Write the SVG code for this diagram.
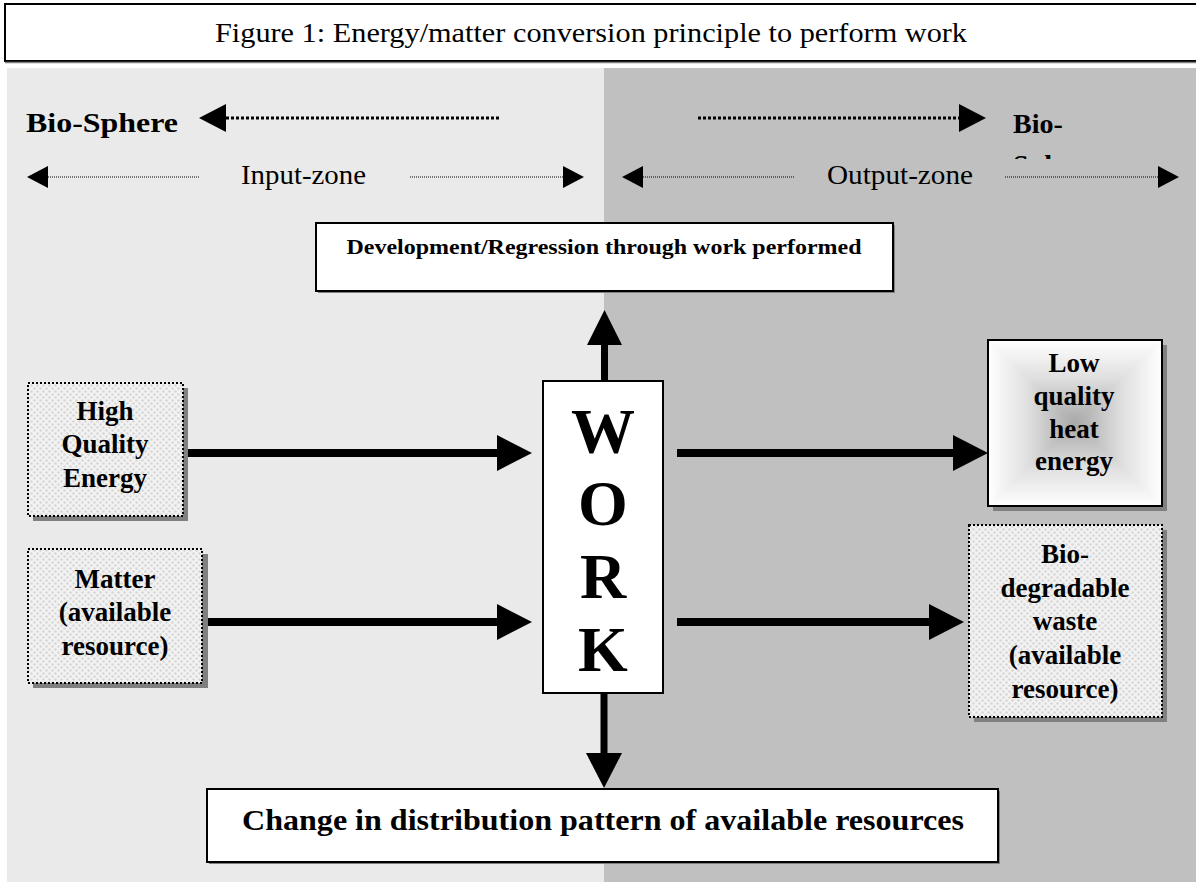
<svg xmlns="http://www.w3.org/2000/svg" width="1196" height="882" viewBox="0 0 1196 882">
<style>
.t{font-family:"Liberation Serif","Times New Roman",serif;fill:#000}
.b{font-weight:bold}
.ctr{text-anchor:middle}
.solid{fill:#fff;stroke:#000;stroke-width:2}
.shadow{fill:#808080}
.tex{fill:url(#dots);stroke:#000;stroke-width:2;stroke-dasharray:2 2}
.thick{stroke:#000;stroke-width:8;fill:none}
.head{fill:#000}
.dotB{stroke:#000;stroke-width:3;stroke-dasharray:3 2;fill:none}
.dotS{stroke:#000;stroke-width:1;stroke-dasharray:1 1;fill:none}
</style>
<defs>
<pattern id="dots" width="6" height="6" patternUnits="userSpaceOnUse">
<rect width="6" height="6" fill="#f2f2f2"/>
<circle cx="1.5" cy="1.5" r="1.2" fill="#d6d6d6"/>
<circle cx="4.5" cy="4.5" r="1.2" fill="#d6d6d6"/>
</pattern>
<linearGradient id="gT" x1="0" y1="340" x2="0" y2="423" gradientUnits="userSpaceOnUse">
<stop offset="0" stop-color="#ffffff"/><stop offset="0.45" stop-color="#e0e0e0"/><stop offset="1" stop-color="#a8a8a8"/>
</linearGradient>
<linearGradient id="gB" x1="0" y1="506" x2="0" y2="423" gradientUnits="userSpaceOnUse">
<stop offset="0" stop-color="#ffffff"/><stop offset="0.45" stop-color="#e0e0e0"/><stop offset="1" stop-color="#a8a8a8"/>
</linearGradient>
<linearGradient id="gL" x1="988" y1="0" x2="1075" y2="0" gradientUnits="userSpaceOnUse">
<stop offset="0" stop-color="#ffffff"/><stop offset="0.45" stop-color="#e0e0e0"/><stop offset="1" stop-color="#a8a8a8"/>
</linearGradient>
<linearGradient id="gR" x1="1162" y1="0" x2="1075" y2="0" gradientUnits="userSpaceOnUse">
<stop offset="0" stop-color="#ffffff"/><stop offset="0.45" stop-color="#e0e0e0"/><stop offset="1" stop-color="#a8a8a8"/>
</linearGradient>
<clipPath id="clipBio"><rect x="1000" y="100" width="196" height="59"/></clipPath>
</defs>

<!-- backgrounds -->
<rect x="7" y="68" width="597" height="814" fill="#eaeaea"/>
<rect x="604" y="68" width="592" height="814" fill="#c0c0c0"/>

<!-- title -->
<g id="title">
<rect x="5" y="4" width="1195" height="57" fill="#fff" stroke="#000" stroke-width="2"/>
<line x1="5" y1="62.5" x2="1196" y2="62.5" stroke="#808080" stroke-width="1.5"/>
<text class="t ctr" x="591" y="42" font-size="27" textLength="752" lengthAdjust="spacingAndGlyphs">Figure 1: Energy/matter conversion principle to perform work</text>
</g>

<!-- zone headers -->
<g id="biosphere-left">
<text class="t b" x="26" y="132" font-size="28" textLength="152" lengthAdjust="spacingAndGlyphs">Bio-Sphere</text>
</g>
<g id="biosphere-right">
<text class="t b" x="1013" y="133" font-size="28">Bio-</text>
<text class="t b" x="1013" y="174" font-size="28" clip-path="url(#clipBio)">Sphere</text>
</g>
<g id="input-zone">
<text class="t" x="241" y="184" font-size="27" textLength="125" lengthAdjust="spacingAndGlyphs">Input-zone</text>
</g>
<g id="output-zone">
<text class="t" x="827" y="184" font-size="27" textLength="146" lengthAdjust="spacingAndGlyphs">Output-zone</text>
</g>

<!-- nodes -->
<g id="development">
<rect x="318" y="225" width="577" height="68" class="shadow"/>
<rect x="316" y="223" width="577" height="68" class="solid"/>
<text class="t b ctr" x="604" y="254" font-size="20" textLength="515" lengthAdjust="spacingAndGlyphs">Development/Regression through work performed</text>
</g>

<g id="work">
<rect x="543" y="381" width="120" height="312" class="solid"/>
<text class="t b ctr" x="603" y="453" font-size="64">W</text>
<text class="t b ctr" x="603" y="525" font-size="64">O</text>
<text class="t b ctr" x="603" y="598" font-size="64">R</text>
<text class="t b ctr" x="603" y="671" font-size="64">K</text>
</g>

<g id="high-quality-energy">
<rect x="33" y="388" width="155" height="133" class="shadow"/>
<rect x="28" y="383" width="155" height="133" class="tex"/>
<text class="t b ctr" x="105" y="420" font-size="27">High</text>
<text class="t b ctr" x="105" y="453" font-size="27">Quality</text>
<text class="t b ctr" x="105" y="487" font-size="27">Energy</text>
</g>

<g id="matter">
<rect x="33" y="554" width="175" height="134" class="shadow"/>
<rect x="28" y="549" width="174" height="134" class="tex"/>
<text class="t b ctr" x="115" y="588" font-size="27">Matter</text>
<text class="t b ctr" x="115" y="621" font-size="27">(available</text>
<text class="t b ctr" x="115" y="655" font-size="27">resource)</text>
</g>

<g id="low-quality-heat">
<rect x="993" y="345" width="174" height="166" class="shadow"/>
<rect x="988" y="340" width="174" height="166" fill="#e4e4e4"/>
<polygon points="988,340 1162,340 1075,423" fill="url(#gT)" stroke="url(#gT)" stroke-width="0.8"/>
<polygon points="988,506 1162,506 1075,423" fill="url(#gB)" stroke="url(#gB)" stroke-width="0.8"/>
<polygon points="988,340 988,506 1075,423" fill="url(#gL)"/>
<polygon points="1162,340 1162,506 1075,423" fill="url(#gR)"/>
<rect x="988" y="340" width="174" height="166" fill="none" stroke="#000" stroke-width="2"/>
<text class="t b ctr" x="1074" y="372" font-size="27">Low</text>
<text class="t b ctr" x="1074" y="405" font-size="27">quality</text>
<text class="t b ctr" x="1074" y="438" font-size="27">heat</text>
<text class="t b ctr" x="1074" y="470" font-size="27">energy</text>
</g>

<g id="biodegradable-waste">
<rect x="974" y="530" width="193" height="192" class="shadow"/>
<rect x="969" y="525" width="193" height="192" class="tex"/>
<text class="t b ctr" x="1065" y="563" font-size="27">Bio-</text>
<text class="t b ctr" x="1065" y="597" font-size="27">degradable</text>
<text class="t b ctr" x="1065" y="630" font-size="27">waste</text>
<text class="t b ctr" x="1065" y="664" font-size="27">(available</text>
<text class="t b ctr" x="1065" y="698" font-size="27">resource)</text>
</g>

<g id="change">
<rect x="209" y="791" width="791" height="73" class="shadow"/>
<rect x="207" y="789" width="791" height="73" class="solid"/>
<text class="t b ctr" x="603" y="830" font-size="30" textLength="722" lengthAdjust="spacingAndGlyphs">Change in distribution pattern of available resources</text>
</g>

<!-- connectors -->
<g id="connectors">
<line x1="226" y1="118" x2="500" y2="118" class="dotB"/>
<polygon points="199,118 226,104 226,132" class="head"/>
<line x1="698" y1="118" x2="961" y2="118" class="dotB"/>
<polygon points="986,118 959,104 959,132" class="head"/>
<line x1="48" y1="177" x2="199" y2="177" class="dotS"/>
<polygon points="27,177 48,166 48,188" class="head"/>
<line x1="410" y1="177" x2="563" y2="177" class="dotS"/>
<polygon points="584,177 563,166 563,188" class="head"/>
<line x1="643" y1="177" x2="794" y2="177" class="dotS"/>
<polygon points="622,177 643,166 643,188" class="head"/>
<line x1="1005" y1="177" x2="1158" y2="177" class="dotS"/>
<polygon points="1179,177 1158,166 1158,188" class="head"/>
<line x1="188" y1="453" x2="499" y2="453" class="thick"/>
<polygon points="532,453 497,435 497,471" class="head"/>
<line x1="208" y1="622" x2="499" y2="622" class="thick"/>
<polygon points="532,622 497,604 497,640" class="head"/>
<line x1="677" y1="453" x2="955" y2="453" class="thick"/>
<polygon points="988,453 953,435 953,471" class="head"/>
<line x1="677" y1="622" x2="931" y2="622" class="thick"/>
<polygon points="964,622 929,604 929,640" class="head"/>
<line x1="604.5" y1="381" x2="604.5" y2="343" stroke="#000" stroke-width="7"/>
<polygon points="604.5,310 587,345 622,345" class="head"/>
<line x1="604" y1="693" x2="604" y2="755" stroke="#000" stroke-width="7"/>
<polygon points="604,788 586,753 622,753" class="head"/>
</g>
</svg>
